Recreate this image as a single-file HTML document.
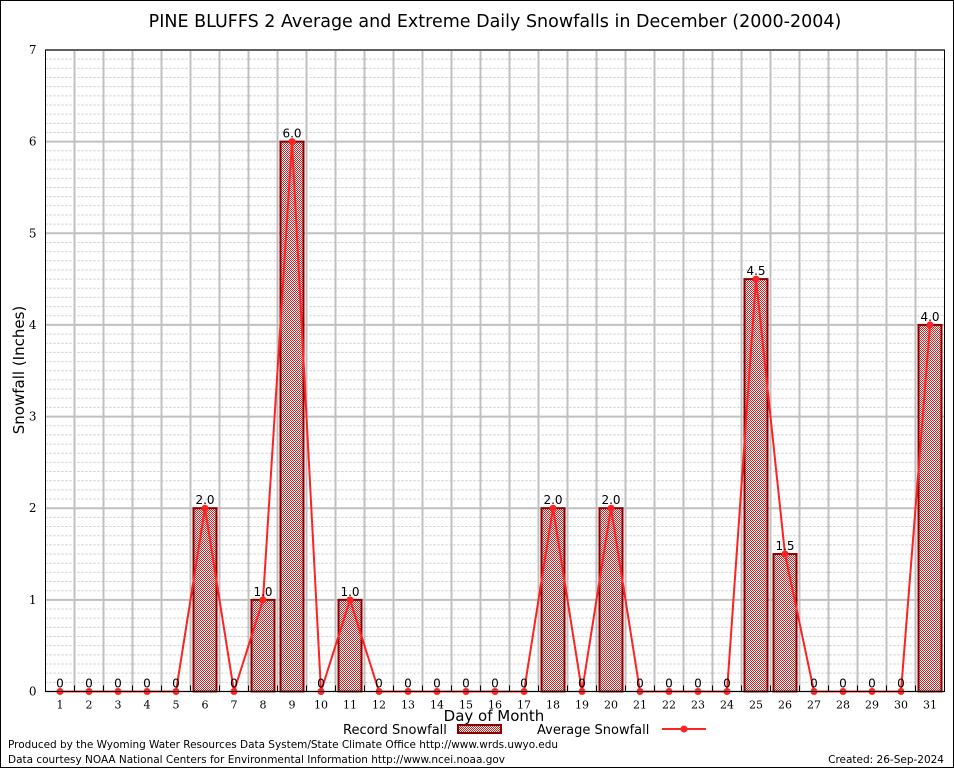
<!DOCTYPE html>
<html><head><meta charset="utf-8"><style>
body{margin:0;background:#fff}
svg{display:block;font-family:"DejaVu Sans","Liberation Sans",sans-serif}
</style></head><body>
<svg id="chart" width="954" height="768">
<defs>
<pattern id="chk" width="2" height="2" patternUnits="userSpaceOnUse">
<rect width="2" height="2" fill="#fbeaea"/><rect width="1" height="1" fill="#c03030"/><rect x="1" y="1" width="1" height="1" fill="#c03030"/>
</pattern>
</defs>
<rect x="0.5" y="0.5" width="953" height="767" fill="#fff" stroke="#000"/>
<text x="495" y="27" font-size="17.5" text-anchor="middle">PINE BLUFFS 2 Average and Extreme Daily Snowfalls in December (2000-2004)</text>
<g id="grid"></g>
<g id="bars"></g>
<g id="line"></g>
<g id="axes"></g>
<text x="24" y="370" font-size="15" text-anchor="middle" transform="rotate(-90 24 370)">Snowfall (Inches)</text>
<text x="494" y="721" font-size="15" text-anchor="middle">Day of Month</text>
<g>
<text x="343" y="734" font-size="13">Record Snowfall</text>
<rect x="458" y="725" width="43" height="8" fill="url(#chk)" stroke="#8b0000" stroke-width="2"/>
<text x="537" y="734" font-size="13">Average Snowfall</text>
<line x1="662" y1="729" x2="706" y2="729" stroke="#f22" stroke-width="2"/>
<circle cx="684" cy="729" r="3.5" fill="#f22"/>
</g>
<text x="8" y="748" font-size="10.5" textLength="550">Produced by the Wyoming Water Resources Data System/State Climate Office http://www.wrds.uwyo.edu</text>
<text x="8" y="763" font-size="10.5" textLength="497">Data courtesy NOAA National Centers for Environmental Information http://www.ncei.noaa.gov</text>
<text x="944" y="763" font-size="10.5" text-anchor="end">Created:  26-Sep-2024</text>
</svg>
<script>
const days = [1,2,3,4,5,6,7,8,9,10,11,12,13,14,15,16,17,18,19,20,21,22,23,24,25,26,27,28,29,30,31];
const recordSnow = [0,0,0,0,0,2.0,0,1.0,6.0,0,1.0,0,0,0,0,0,0,2.0,0,2.0,0,0,0,0,4.5,1.5,0,0,0,0,4.0];
const avgSnow = [0,0,0,0,0,2.0,0,1.0,6.0,0,1.0,0,0,0,0,0,0,2.0,0,2.0,0,0,0,0,4.5,1.5,0,0,0,0,4.0];
const yTicks = [0,1,2,3,4,5,6,7];
const L=45.5,R=944.5,T=50,B=691.5,YMAX=7;
const step=(R-L)/days.length;
const xs=d=>L+step*(d-0.5);
const ys=v=>B-(v/YMAX)*(B-T);
const NS='http://www.w3.org/2000/svg';
function mk(p,tag,a){const e=document.createElementNS(NS,tag);for(const k in a)e.setAttribute(k,a[k]);document.getElementById(p).appendChild(e);return e;}
for(let i=0;i<=YMAX*10;i++){const v=i/10;if(i%10===0)continue;
const g=mk('grid','line',{x1:L,x2:R,y1:ys(v),y2:ys(v),stroke:'#c8c8c8','stroke-dasharray':'2,2','stroke-width':1});

}
yTicks.forEach(v=>{const g=mk('grid','line',{x1:L,x2:R,y1:ys(v),y2:ys(v),stroke:'#c0c0c0','stroke-width':2});


const t=mk('axes','text',{x:L-9,y:ys(v)+4,'font-size':12,'text-anchor':'end','font-family':'DejaVu Serif,serif'});t.textContent=v;

});
for(let i=1;i<days.length;i++){const x=L+step*i;const g=mk('grid','line',{x1:x,x2:x,y1:T,y2:B,stroke:'#c0c0c0','stroke-width':2});


const tk=mk('axes','line',{x1:x,x2:x,y1:B,y2:B-6,stroke:'#000'});

}
const frame=mk('axes','rect',{x:L,y:T,width:R-L,height:B-T,fill:'none',stroke:'#000'});


days.forEach((d,i)=>{const v=recordSnow[i];const x=xs(d);
if(v>0){const b=mk('bars','rect',{x:x-11.5,y:ys(v),width:23,height:B-ys(v),fill:'url(#chk)',stroke:'#8b0000','stroke-width':2});

}
const t=mk('axes','text',{x:x,y:ys(v)-4,'font-size':12,'text-anchor':'middle'});t.textContent=v>0?v.toFixed(1):'0';


const xl=mk('axes','text',{x:x,y:B+17,'font-size':11,'text-anchor':'middle','font-family':'DejaVu Serif,serif'});xl.textContent=d;

});
const pl=mk('line','polyline',{points:days.map((d,i)=>xs(d)+','+ys(avgSnow[i])).join(' '),fill:'none',stroke:'#f22','stroke-width':2});


days.forEach((d,i)=>{const c=mk('line','circle',{cx:xs(d),cy:ys(avgSnow[i]),r:3.5,fill:'#f22'});

});
</script>
</body></html>
